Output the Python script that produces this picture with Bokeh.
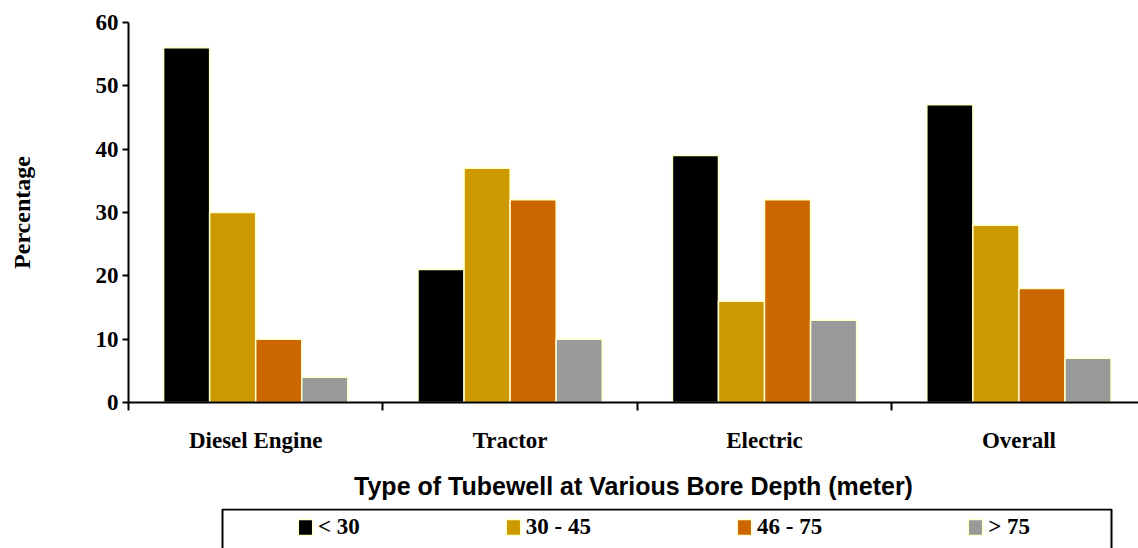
from bokeh.plotting import figure
from bokeh.models import (Range1d, FixedTicker, Legend, LegendItem)
from bokeh.layouts import column
from bokeh.embed import file_html
from bokeh.resources import INLINE
import numpy as np

# ---- data ----
categories = ["Diesel Engine", "Tractor", "Electric", "Overall"]
depth_groups = ["< 30", "30 - 45", "46 - 75", "> 75"]
lt_30 = [56, 21, 39, 47]
d30_45 = [30, 37, 16, 28]
d46_75 = [10, 32, 32, 18]
gt_75 = [4, 10, 13, 7]
y_ticks = [0, 10, 20, 30, 40, 50, 60]

series = [lt_30, d30_45, d46_75, gt_75]
colors = ["#000000", "#CC9900", "#CC6600", "#999999"]
edge = "#FFFFCC"
serif = "Liberation Serif"

bar_w = 0.181
n = len(categories)

p = figure(width=1138, height=508, x_range=Range1d(0, 3.97), y_range=Range1d(0, 60),
           output_backend="svg", toolbar_location=None,
           min_border_left=128, min_border_right=0, min_border_top=22, min_border_bottom=106)
p.outline_line_color = None
p.xgrid.visible = False
p.ygrid.visible = False
p.background_fill_color = "white"

centers = np.arange(n) + 0.5
for k, (vals, c) in enumerate(zip(series, colors)):
    xs = centers + (k - 1.5) * bar_w
    p.vbar(x=xs, top=vals, bottom=0, width=bar_w, fill_color=c, line_color=edge, line_width=1.5)

# y axis
ya = p.yaxis[0]
ya.ticker = FixedTicker(ticks=y_ticks, minor_ticks=[])
ya.axis_line_width = 2
ya.major_tick_line_width = 2
ya.major_tick_out = 6
ya.major_tick_in = 0
ya.major_label_standoff = 4
ya.major_label_text_font = serif
ya.major_label_text_font_style = "bold"
ya.major_label_text_font_size = "23px"
ya.major_label_text_color = "black"
ya.axis_label = "Percentage"
ya.axis_label_text_font = serif
ya.axis_label_text_font_style = "bold"
ya.axis_label_text_font_size = "24px"
ya.axis_label_text_color = "black"
ya.axis_label_standoff = 58

# x axis
xa = p.xaxis[0]
xa.ticker = FixedTicker(ticks=list(centers), minor_ticks=list(np.arange(n)))
xa.major_label_overrides = {float(c): name for c, name in zip(centers, categories)}
xa.axis_line_width = 2
xa.major_tick_out = 0
xa.major_tick_in = 0
xa.minor_tick_out = 8
xa.minor_tick_in = 0
xa.minor_tick_line_width = 2
xa.minor_tick_line_color = "black"
xa.major_label_standoff = 17
xa.major_label_text_font = serif
xa.major_label_text_font_style = "bold"
xa.major_label_text_font_size = "23px"
xa.major_label_text_color = "black"
xa.axis_label = "Type of Tubewell at Various Bore Depth (meter)"
xa.axis_label_text_font = "Liberation Sans"
xa.axis_label_text_font_style = "bold"
xa.axis_label_text_font_size = "25px"
xa.axis_label_text_color = "black"
xa.axis_label_standoff = 16

# legend panel (frame aligned with the main frame: data x == page x)
p2 = figure(width=1138, height=40, x_range=Range1d(128, 1138), y_range=Range1d(0, 40),
            output_backend="svg", toolbar_location=None,
            min_border_left=128, min_border_right=0, min_border_top=0, min_border_bottom=0,
            x_axis_type=None, y_axis_type=None)
p2.outline_line_color = None
p2.xgrid.visible = False
p2.ygrid.visible = False
p2.quad(left=[222], right=[1111], bottom=[-10], top=[39], fill_color=None,
        line_color="black", line_width=2)

items = []
for lab, c in zip(depth_groups, colors):
    r = p2.quad(left=[-50], right=[-40], top=[-50], bottom=[-60],
                fill_color=c, line_color=edge, line_width=1.5)
    items.append(LegendItem(label=lab, renderers=[r]))
leg = Legend(items=items, orientation="horizontal", location=(168, 8),
             spacing=144, padding=0, margin=0, glyph_width=18, glyph_height=20,
             label_standoff=4, border_line_color=None, background_fill_alpha=0,
             label_text_font=serif, label_text_font_style="bold",
             label_text_font_size="23px", label_text_color="black")
p2.add_layout(leg, "center")

layout = column(p, p2, spacing=0)
open("out.html", "w").write(file_html(layout, INLINE))
